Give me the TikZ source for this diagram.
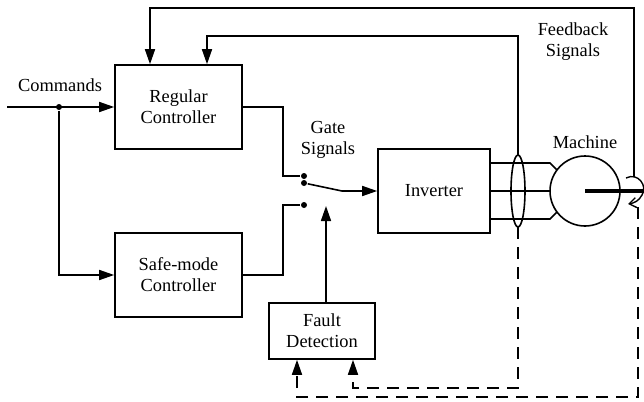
\documentclass[tikz,border=0pt]{standalone}
\usepackage{fontspec}
\setmainfont{Liberation Serif}
\usetikzlibrary{arrows.meta}
\tikzset{
  blk/.style={draw,line width=0.8pt,align=center,inner sep=0pt},
  arr/.style={-{Triangle[length=7.5pt,width=5pt]}},
  fb/.style={dash pattern=on 6pt off 4pt},
  dot/.style={circle,fill,inner sep=0pt,minimum size=3pt}
}
\begin{document}
\begin{tikzpicture}[x=0.5pt,y=-0.5pt,line width=0.8pt,font=\fontsize{9.2}{10.5}\selectfont]
\useasboundingbox (0,0) rectangle (644,402);
%put blocks
\node[blk,minimum width=63.5pt,minimum height=42pt] (reg) at (178.5,107) {Regular\\Controller};
\node[blk,minimum width=63.5pt,minimum height=42pt] (safe) at (178.5,275) {Safe-mode\\Controller};
\node[blk,minimum width=56pt,minimum height=42pt] (inv) at (434,191) {Inverter};
\node[blk,minimum width=53pt,minimum height=28pt] (fault) at (322,331) {Fault\\Detection};
\node[draw,circle,minimum size=35pt,inner sep=0pt] (mach) at (585,191) {};
%switch contacts
\node[dot] (s1) at (304,176) {};
\node[dot] (s2) at (304,183) {};
\node[dot] (s3) at (304,205) {};
\coordinate (cl) at (518,191);
\coordinate (cmd) at (7,107);
\node[dot] (j) at (59,107) {};
%commands
\draw[arr] (cmd) to (reg.west);
\draw[arr] (j) |- (safe.west);
%gate signals
\draw (reg.east) -| (283,176) to (s1);
\draw (safe.east) -| (283,205) to (s3);
\draw[arr] (s2) to (342,191) to (inv.west);
\draw[arr] (fault.north -| 326,0) to (326,206);
%inverter to machine
\draw (inv.east |- 0,163) to (550,163) to (557,170);
\draw (inv.east) to (mach.west);
\draw (inv.east |- 0,219) to (550,219) to (557,212);
\draw (cl) ellipse [x radius=7,y radius=36];
%shaft
\draw[line width=2pt] (mach.center) to (644,191);
\draw[-{Straight Barb[length=3.5pt,width=5pt]},line width=0.7pt] (626,178) .. controls (638,172) and (648,186) .. (642,195) .. controls (639,201) and (634,203) .. (628,204);
%feedback
\draw[arr] (634,176) to (634,8) -| (reg.north -| 150,0);
\draw[arr] (518,155) to (518,36) -| (reg.north -| 207,0);
\draw[arr,fb] (518,227) |- (353,388) to (fault.south -| 353,0);
\draw[arr,fb] (638,207) |- (297,397) to (fault.south -| 297,0);
%labels
\node at (60,85) {Commands};
\node[align=center] at (328,140) {Gate\\Signals};
\node at (585,142) {Machine};
\node[align=center] at (573,42) {Feedback\\Signals};
\end{tikzpicture}
\end{document}
